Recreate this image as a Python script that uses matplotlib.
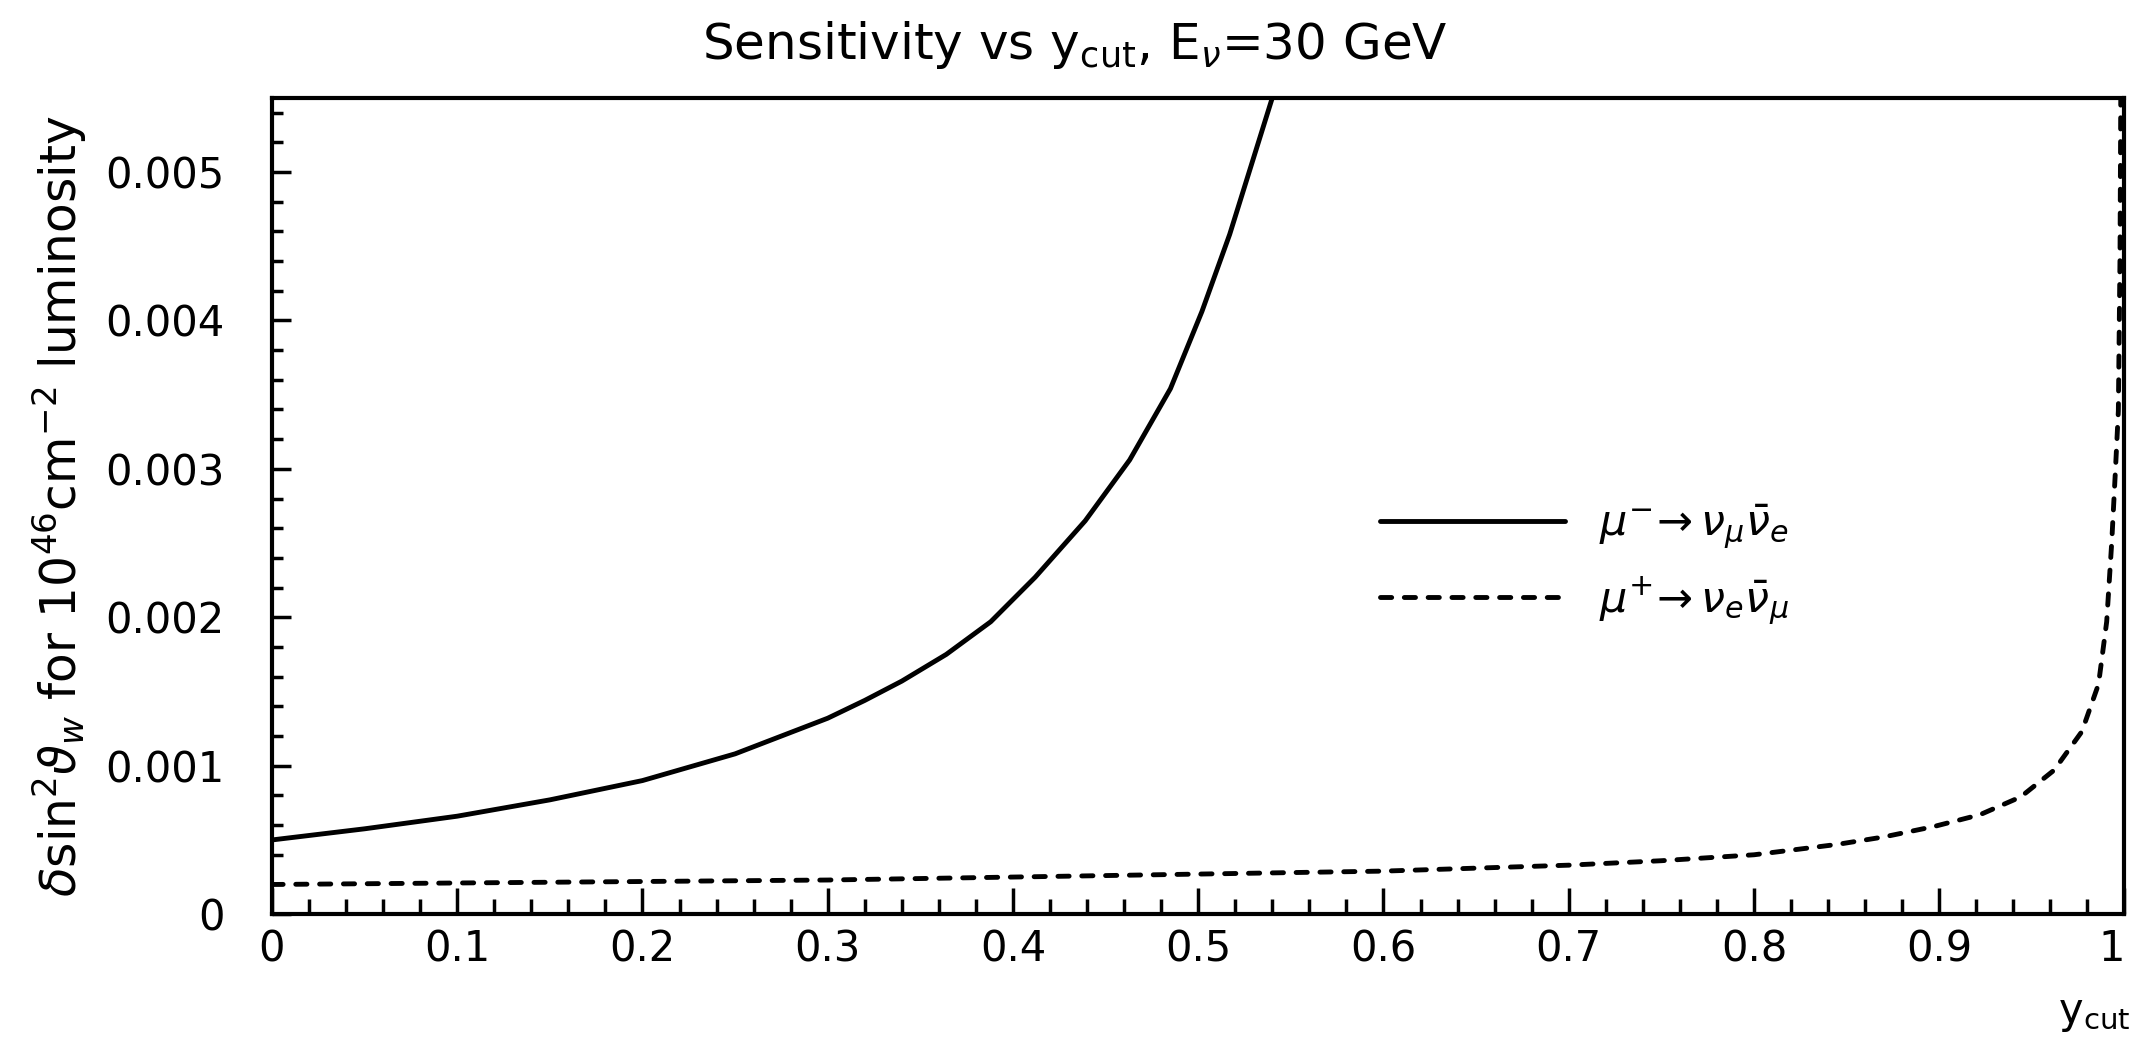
import numpy as np
import matplotlib
matplotlib.use('Agg')
import matplotlib.pyplot as plt
from matplotlib.ticker import MultipleLocator, FuncFormatter

plt.rcParams['font.family'] = ['DejaVu Sans']
plt.rcParams['mathtext.fontset'] = 'dejavusans'

# mu- -> nu_mu nubar_e (solid)
ycut_minus = [0.0, 0.05, 0.1, 0.15, 0.2, 0.25, 0.3, 0.32, 0.34, 0.364, 0.388,
              0.412, 0.439, 0.463, 0.485, 0.502, 0.517, 0.529, 0.54]
sens_minus = [0.0005, 0.000575, 0.00066, 0.00077, 0.0009, 0.00108, 0.00132,
              0.00144, 0.00157, 0.00175, 0.00197, 0.00227, 0.00265, 0.00306,
              0.00354, 0.00406, 0.00458, 0.00506, 0.0055]

# mu+ -> nu_e nubar_mu (dashed)
ycut_plus = [0.0, 0.1, 0.2, 0.3, 0.4, 0.5, 0.6, 0.65, 0.7, 0.75, 0.8, 0.845,
             0.87, 0.897, 0.922, 0.944, 0.962, 0.977, 0.986, 0.9904, 0.9931,
             0.995, 0.9967, 0.9976, 0.998]
sens_plus = [0.0002, 0.00021, 0.00022, 0.00023, 0.00025, 0.00027, 0.00029,
             0.00031, 0.00033, 0.00036, 0.0004, 0.00047, 0.00052, 0.00059,
             0.00067, 0.00079, 0.00097, 0.00123, 0.00155, 0.00197, 0.0025,
             0.00296, 0.00339, 0.00444, 0.0055]

labels = [r'$\mu^{-}\!\rightarrow\nu_{\mu}\bar{\nu}_{e}$',
          r'$\mu^{+}\!\rightarrow\nu_{e}\bar{\nu}_{\mu}$']

fig = plt.figure(figsize=(21.33, 10.4), dpi=100)
ax = fig.add_axes([0.1275, 0.121, 0.8685, 0.785])

l1, = ax.plot(ycut_minus, sens_minus, color='k', lw=3.5, solid_capstyle='round',
              solid_joinstyle='round')
l2, = ax.plot(ycut_plus, sens_plus, color='k', lw=3.5, linestyle=(0, (2.3, 2.6)),
              dash_capstyle='round')

ax.set_xlim(0, 1)
ax.set_ylim(0, 0.0055)

ax.xaxis.set_major_locator(MultipleLocator(0.1))
ax.xaxis.set_minor_locator(MultipleLocator(0.02))
ax.yaxis.set_major_locator(MultipleLocator(0.001))
ax.yaxis.set_minor_locator(MultipleLocator(0.0002))

# the "1" at the right edge is drawn separately, right-aligned, so it stays inside the figure
ax.xaxis.set_major_formatter(FuncFormatter(lambda v, p: '0' if abs(v) < 1e-9 else ('' if abs(v - 1) < 1e-9 else f'{v:.1f}')))
ax.yaxis.set_major_formatter(FuncFormatter(lambda v, p: '0' if abs(v) < 1e-12 else f'{v:.3f}'))

ax.tick_params(axis='x', which='major', direction='in', length=19, width=2.5, pad=10, labelsize=30)
ax.tick_params(axis='x', which='minor', direction='in', length=11, width=2.5)
ax.tick_params(axis='y', which='major', direction='in', length=14, width=2.5, pad=34, labelsize=30)
ax.tick_params(axis='y', which='minor', direction='in', length=8, width=2.5)
ax.tick_params(top=False, right=False, which='both')

ax.text(1.0, -0.017, '1', transform=ax.get_xaxis_transform(), ha='right', va='top', fontsize=30)

for s in ax.spines.values():
    s.set_linewidth(3)

ax.set_ylabel(r'$\delta$sin$^2\vartheta_w$ for 10$^{46}$cm$^{-2}$ luminosity', fontsize=35, labelpad=12)

fig.text(0.504, 0.957, r'Sensitivity vs y$_{\rm cut}$, E$_{\nu}$=30 GeV', ha='center', va='center', fontsize=36)
fig.text(0.982, 0.026, r'y$_{\rm cut}$', ha='center', va='center', fontsize=30)

ax.legend([l1, l2], labels, loc='center left', bbox_to_anchor=(0.598, 0.428),
          frameon=False, fontsize=31, handlelength=4.3, labelspacing=0.55,
          handletextpad=0.8, borderpad=0, borderaxespad=0)

fig.savefig('out.png', dpi=100)
